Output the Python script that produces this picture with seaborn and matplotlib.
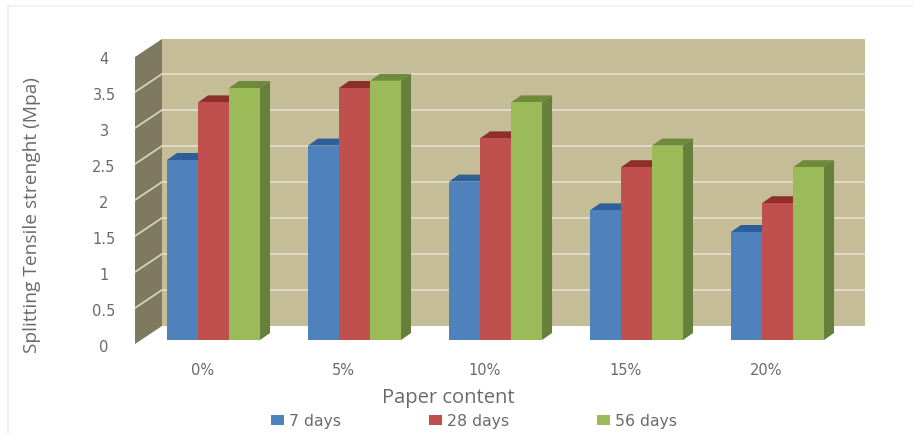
import matplotlib
matplotlib.use("Agg")
import matplotlib.pyplot as plt
import matplotlib.transforms as mtrans
from matplotlib.lines import Line2D
from matplotlib.patches import Polygon, Rectangle
import pandas as pd
import seaborn as sns

categories = ["0%", "5%", "10%", "15%", "20%"]
days_7 = [2.5, 2.7, 2.2, 1.8, 1.5]
days_28 = [3.3, 3.5, 2.8, 2.4, 1.9]
days_56 = [3.5, 3.6, 3.3, 2.7, 2.4]
series_names = ["7 days", "28 days", "56 days"]
y_ticks = [0, 0.5, 1, 1.5, 2, 2.5, 3, 3.5, 4]
y_tick_labels = ["0", "0.5", "1", "1.5", "2", "2.5", "3", "3.5", "4"]

front_colors = ["#4F81BD", "#C0504D", "#9BBB59"]
top_colors = ["#2F5F98", "#8E2F2C", "#6F8A3A"]
side_colors = ["#3A6496", "#943C39", "#64803A"]
TEXT = "#6A6A6A"

W, H = 913, 435
sns.set_theme(style="white")
plt.rcParams["font.family"] = ["DejaVu Sans"]

fig = plt.figure(figsize=(W / 100, H / 100), dpi=100, facecolor="white")

# Plot frame in pixels: category spacing 141 px, 72 px per unit
LEFT, RIGHT, TOP, BOTTOM = 135, 865, 38, 345
PX_PER_CAT, PX_PER_UNIT = 141.0, 72.0
FIRST_CENTER, ZERO_ROW = 213.5, 341.0
ax = fig.add_axes([LEFT / W, 1 - BOTTOM / H, (RIGHT - LEFT) / W, (BOTTOM - TOP) / H])
ax.patch.set_visible(False)


def col(px):
    return (px - FIRST_CENTER) / PX_PER_CAT


def row(py):
    return (ZERO_ROW - py) / PX_PER_UNIT


frame = pd.DataFrame({
    "content": categories * 3,
    "age": [s for s in series_names for _ in categories],
    "strength": days_7 + days_28 + days_56,
})
sns.barplot(data=frame, x="content", y="strength", hue="age", order=categories,
            hue_order=series_names, palette=front_colors, width=0.66, gap=0,
            saturation=1, errorbar=None, ax=ax, zorder=3, linewidth=0)

ax.set_xlim(col(LEFT), col(RIGHT))
ax.set_ylim(row(BOTTOM), row(TOP))

# Back wall, side wall and the cream grid lines running across both
WALL_X, WALL_BOTTOM, WALL_TOP = 162, 327, 40
ax.add_patch(Rectangle((col(WALL_X), row(WALL_BOTTOM)), col(RIGHT) - col(WALL_X),
                       row(WALL_TOP) - row(WALL_BOTTOM), fc="#C4BD97", ec="none", zorder=0))
ax.add_patch(Polygon([(col(LEFT), row(345)), (col(WALL_X), row(WALL_BOTTOM)),
                      (col(WALL_X), row(WALL_TOP)), (col(LEFT), row(58))],
                     fc="#7F7A5F", ec="none", zorder=0))
for v in y_ticks[1:-1]:
    back = row(WALL_BOTTOM) + v
    front = row(345) + v
    ax.plot([col(WALL_X), col(RIGHT)], [back, back], color="#E2DECB", lw=1.3, zorder=1)
    ax.plot([col(LEFT), col(WALL_X)], [front, back], color="#D4D0BC", lw=1.3, zorder=1)

# Extrude every bar backwards: top and side faces sit beneath the front faces
DX, DY = 10 / PX_PER_CAT, 7 / PX_PER_UNIT
for container, top_c, side_c in zip(ax.containers, top_colors, side_colors):
    for bar in container:
        x0, x1, h = bar.get_x(), bar.get_x() + bar.get_width(), bar.get_height()
        ax.add_patch(Polygon([(x0, h), (x1, h), (x1 + DX, h + DY), (x0 + DX, h + DY)],
                             fc=top_c, ec="none", zorder=2))
        ax.add_patch(Polygon([(x1, 0), (x1 + DX, DY), (x1 + DX, h + DY), (x1, h)],
                             fc=side_c, ec="none", zorder=2))

sns.despine(ax=ax, left=True, bottom=True, top=True, right=True)
ax.set_xlabel("")
ax.set_ylabel("")
ax.set_yticks(y_ticks)
ax.set_yticklabels(y_tick_labels, fontsize=10.5, color=TEXT)
ax.set_xticks(range(len(categories)))
ax.set_xticklabels(categories, fontsize=10.5, color=TEXT)
ax.tick_params(axis="both", length=0, pad=0)

# Tick labels follow the front edge of the floor, not the bar centres
x_shift = mtrans.ScaledTranslation(-11 / 100, -18 / 100, fig.dpi_scale_trans)
y_shift = mtrans.ScaledTranslation(-31 / 100, -5 / 100, fig.dpi_scale_trans)
for label in ax.get_xticklabels():
    label.set_transform(label.get_transform() + x_shift)
for label in ax.get_yticklabels():
    label.set_ha("center")
    label.set_transform(label.get_transform() + y_shift)

fig.text(448 / W, 1 - 398 / H, "Paper content", ha="center", va="center",
         fontsize=14.5, color=TEXT, family="Open Sans")
fig.text(32 / W, 1 - 215 / H, "Splitting Tensile strenght (Mpa)", ha="center", va="center",
         rotation=90, fontsize=13.8, color=TEXT, family="Open Sans")

handles = ax.containers
ax.legend(handles=[c[0] for c in handles], labels=series_names, ncol=3, frameon=False,
          loc="center", bbox_to_anchor=(474 / W, 1 - 422 / H),
          bbox_transform=fig.transFigure, fontsize=11.3, labelcolor=TEXT,
          handlelength=0.83, handleheight=0.65, handletextpad=0.3, columnspacing=5.6,
          borderpad=0, borderaxespad=0)

# Faint chart-area outline along the top and left
fig.add_artist(Line2D([8 / W, 1], [1 - 7 / H, 1 - 7 / H], color="#F0F0F0", lw=1.2,
                      transform=fig.transFigure))
fig.add_artist(Line2D([8 / W, 8 / W], [0, 1 - 7 / H], color="#F0F0F0", lw=1.2,
                      transform=fig.transFigure))

fig.savefig("out.png", dpi=100, facecolor="white")
